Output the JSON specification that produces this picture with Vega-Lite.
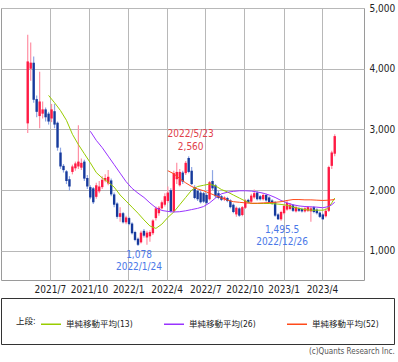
{
  "$schema": "https://vega.github.io/schema/vega-lite/v6.json",
  "width": 363,
  "height": 272,
  "autosize": {"type": "none"},
  "padding": {"left": 1, "top": 8, "right": 34, "bottom": 82},
  "background": "white",
  "config": {
    "font": "Liberation Sans Narrow, DejaVu Sans Condensed, Noto Sans CJK JP, sans-serif",
    "view": {"stroke": "#9a9a9a"},
    "axis": {"gridColor": "#b8b8b8", "gridWidth": 1, "ticks": false, "domain": false, "labelColor": "#222", "labelFontSize": 10, "title": null},
    "legend": {"orient": "none", "legendX": 0, "legendY": 290, "direction": "horizontal", "titleOrient": "left", "strokeColor": "#333", "fillColor": "white", "padding": 15, "columnPadding": 28, "symbolType": "stroke", "symbolSize": 400, "symbolStrokeWidth": 1.5, "labelFontSize": 8.5, "titleFontSize": 8.5, "titleFontWeight": "normal", "labelColor": "#222", "titleColor": "#222", "titlePadding": 4, "labelOffset": 4},
    "title": {"orient": "bottom", "anchor": "end", "fontSize": 8, "fontWeight": "normal", "color": "#555", "offset": 3}
  },
  "title": "(c)Quants Research Inc.",
  "datasets": {
    "c": [
      {"d":"2021-05-10","o":3100,"h":4560,"l":2940,"c":4120},
      {"d":"2021-05-17","o":4000,"h":4430,"l":3800,"c":4100},
      {"d":"2021-05-24","o":4100,"h":4200,"l":3440,"c":3490},
      {"d":"2021-05-31","o":3500,"h":3560,"l":3200,"c":3290},
      {"d":"2021-06-07","o":3220,"h":3950,"l":3020,"c":3460},
      {"d":"2021-06-14","o":3260,"h":3460,"l":3180,"c":3330},
      {"d":"2021-06-21","o":3330,"h":3360,"l":3130,"c":3200},
      {"d":"2021-06-28","o":3260,"h":3290,"l":3080,"c":3130},
      {"d":"2021-07-05","o":3180,"h":3420,"l":3120,"c":3330},
      {"d":"2021-07-12","o":3300,"h":3420,"l":3020,"c":3080},
      {"d":"2021-07-19","o":3110,"h":3130,"l":2650,"c":2700},
      {"d":"2021-07-26","o":2620,"h":2700,"l":2350,"c":2390},
      {"d":"2021-08-02","o":2400,"h":2430,"l":2290,"c":2330},
      {"d":"2021-08-09","o":2310,"h":2330,"l":2100,"c":2150},
      {"d":"2021-08-16","o":2180,"h":2230,"l":1990,"c":2060},
      {"d":"2021-08-23","o":2300,"h":2420,"l":2260,"c":2390},
      {"d":"2021-08-30","o":2360,"h":2470,"l":2320,"c":2440},
      {"d":"2021-09-06","o":2390,"h":3070,"l":2350,"c":2470},
      {"d":"2021-09-13","o":2370,"h":2520,"l":2330,"c":2450},
      {"d":"2021-09-20","o":2470,"h":2500,"l":2150,"c":2190},
      {"d":"2021-09-27","o":2200,"h":2250,"l":2020,"c":2060},
      {"d":"2021-10-04","o":2050,"h":2080,"l":1850,"c":1880},
      {"d":"2021-10-11","o":2030,"h":2050,"l":1770,"c":1800},
      {"d":"2021-10-18","o":1890,"h":2120,"l":1860,"c":2080},
      {"d":"2021-10-25","o":1980,"h":2150,"l":1950,"c":2060},
      {"d":"2021-11-01","o":2050,"h":2230,"l":2020,"c":2170},
      {"d":"2021-11-08","o":2160,"h":2260,"l":2130,"c":2200},
      {"d":"2021-11-15","o":2110,"h":2330,"l":2080,"c":2220},
      {"d":"2021-11-22","o":2160,"h":2190,"l":1900,"c":1930},
      {"d":"2021-11-29","o":1930,"h":1960,"l":1720,"c":1760},
      {"d":"2021-12-06","o":1780,"h":1800,"l":1530,"c":1560},
      {"d":"2021-12-13","o":1560,"h":1720,"l":1480,"c":1620},
      {"d":"2021-12-20","o":1620,"h":1640,"l":1450,"c":1470},
      {"d":"2021-12-27","o":1470,"h":1580,"l":1440,"c":1550},
      {"d":"2022-01-03","o":1540,"h":1560,"l":1420,"c":1440},
      {"d":"2022-01-10","o":1450,"h":1470,"l":1270,"c":1290},
      {"d":"2022-01-17","o":1310,"h":1330,"l":1160,"c":1180},
      {"d":"2022-01-24","o":1200,"h":1220,"l":1078,"c":1100},
      {"d":"2022-01-31","o":1140,"h":1330,"l":1120,"c":1300},
      {"d":"2022-02-07","o":1330,"h":1360,"l":1220,"c":1250},
      {"d":"2022-02-14","o":1220,"h":1330,"l":1100,"c":1300},
      {"d":"2022-02-21","o":1240,"h":1340,"l":1150,"c":1310},
      {"d":"2022-02-28","o":1290,"h":1520,"l":1260,"c":1500},
      {"d":"2022-03-07","o":1540,"h":1730,"l":1500,"c":1700},
      {"d":"2022-03-14","o":1620,"h":1740,"l":1580,"c":1710},
      {"d":"2022-03-21","o":1700,"h":1830,"l":1680,"c":1800},
      {"d":"2022-03-28","o":1760,"h":1950,"l":1730,"c":1900},
      {"d":"2022-04-04","o":1820,"h":2060,"l":1790,"c":1960},
      {"d":"2022-04-11","o":2000,"h":2030,"l":1630,"c":1650},
      {"d":"2022-04-18","o":1650,"h":2320,"l":1630,"c":2280},
      {"d":"2022-04-25","o":2180,"h":2450,"l":2100,"c":2300},
      {"d":"2022-05-02","o":2080,"h":2350,"l":2060,"c":2300},
      {"d":"2022-05-09","o":2290,"h":2320,"l":2100,"c":2140},
      {"d":"2022-05-16","o":2280,"h":2480,"l":2250,"c":2450},
      {"d":"2022-05-23","o":2530,"h":2560,"l":2280,"c":2300},
      {"d":"2022-05-30","o":2320,"h":2380,"l":2080,"c":2100},
      {"d":"2022-06-06","o":2050,"h":2080,"l":1850,"c":1870},
      {"d":"2022-06-13","o":1990,"h":2010,"l":1820,"c":1850},
      {"d":"2022-06-20","o":1960,"h":2000,"l":1780,"c":1800},
      {"d":"2022-06-27","o":1950,"h":1970,"l":1790,"c":1810},
      {"d":"2022-07-04","o":1920,"h":1950,"l":1770,"c":1790},
      {"d":"2022-07-11","o":1850,"h":2150,"l":1830,"c":2130},
      {"d":"2022-07-18","o":2150,"h":2330,"l":2000,"c":2030},
      {"d":"2022-07-25","o":2080,"h":2100,"l":1870,"c":1900},
      {"d":"2022-08-01","o":1950,"h":1990,"l":1850,"c":1870},
      {"d":"2022-08-08","o":1900,"h":1920,"l":1820,"c":1840},
      {"d":"2022-08-15","o":1850,"h":1900,"l":1820,"c":1880},
      {"d":"2022-08-22","o":1870,"h":1890,"l":1800,"c":1820},
      {"d":"2022-08-29","o":1830,"h":1850,"l":1700,"c":1720},
      {"d":"2022-09-05","o":1760,"h":1780,"l":1620,"c":1640},
      {"d":"2022-09-12","o":1600,"h":1730,"l":1560,"c":1710},
      {"d":"2022-09-19","o":1700,"h":1720,"l":1560,"c":1580},
      {"d":"2022-09-26","o":1590,"h":1740,"l":1570,"c":1720},
      {"d":"2022-10-03","o":1710,"h":1850,"l":1690,"c":1830},
      {"d":"2022-10-10","o":1840,"h":1860,"l":1780,"c":1800},
      {"d":"2022-10-17","o":1810,"h":1940,"l":1790,"c":1910},
      {"d":"2022-10-24","o":1880,"h":2010,"l":1860,"c":1950},
      {"d":"2022-10-31","o":1960,"h":1980,"l":1830,"c":1850},
      {"d":"2022-11-07","o":1900,"h":1920,"l":1830,"c":1850},
      {"d":"2022-11-14","o":1850,"h":1950,"l":1830,"c":1920},
      {"d":"2022-11-21","o":1920,"h":1940,"l":1810,"c":1830},
      {"d":"2022-11-28","o":1880,"h":1900,"l":1790,"c":1800},
      {"d":"2022-12-05","o":1830,"h":1850,"l":1760,"c":1780},
      {"d":"2022-12-12","o":1800,"h":1820,"l":1560,"c":1580},
      {"d":"2022-12-19","o":1600,"h":1620,"l":1510,"c":1520},
      {"d":"2022-12-26","o":1520,"h":1660,"l":1495.5,"c":1640},
      {"d":"2023-01-02","o":1620,"h":1760,"l":1600,"c":1740},
      {"d":"2023-01-09","o":1680,"h":1820,"l":1660,"c":1790},
      {"d":"2023-01-16","o":1690,"h":1790,"l":1670,"c":1760},
      {"d":"2023-01-23","o":1750,"h":1770,"l":1640,"c":1660},
      {"d":"2023-01-30","o":1650,"h":1740,"l":1630,"c":1720},
      {"d":"2023-02-06","o":1700,"h":1720,"l":1640,"c":1660},
      {"d":"2023-02-13","o":1690,"h":1710,"l":1630,"c":1650},
      {"d":"2023-02-20","o":1650,"h":1720,"l":1630,"c":1700},
      {"d":"2023-02-27","o":1660,"h":1740,"l":1640,"c":1720},
      {"d":"2023-03-06","o":1650,"h":1730,"l":1480,"c":1700},
      {"d":"2023-03-13","o":1720,"h":1740,"l":1620,"c":1640},
      {"d":"2023-03-20","o":1680,"h":1700,"l":1600,"c":1620},
      {"d":"2023-03-27","o":1630,"h":1650,"l":1540,"c":1560},
      {"d":"2023-04-03","o":1600,"h":1620,"l":1510,"c":1520},
      {"d":"2023-04-10","o":1570,"h":1700,"l":1550,"c":1660},
      {"d":"2023-04-17","o":1660,"h":2400,"l":1640,"c":2380},
      {"d":"2023-04-24","o":2400,"h":2650,"l":2350,"c":2620},
      {"d":"2023-05-01","o":2600,"h":2920,"l":2560,"c":2890}
    ],
    "ma": [
      {"d":"2021-06-28","s":"単純移動平均(13)","v":3560},
      {"d":"2021-07-12","s":"単純移動平均(13)","v":3440},
      {"d":"2021-07-26","s":"単純移動平均(13)","v":3310},
      {"d":"2021-08-09","s":"単純移動平均(13)","v":3150},
      {"d":"2021-08-23","s":"単純移動平均(13)","v":2920},
      {"d":"2021-09-06","s":"単純移動平均(13)","v":2750},
      {"d":"2021-09-20","s":"単純移動平均(13)","v":2600},
      {"d":"2021-10-04","s":"単純移動平均(13)","v":2450},
      {"d":"2021-10-18","s":"単純移動平均(13)","v":2290},
      {"d":"2021-11-01","s":"単純移動平均(13)","v":2200},
      {"d":"2021-11-15","s":"単純移動平均(13)","v":2130},
      {"d":"2021-11-29","s":"単純移動平均(13)","v":2050},
      {"d":"2021-12-13","s":"単純移動平均(13)","v":1920},
      {"d":"2021-12-27","s":"単純移動平均(13)","v":1820},
      {"d":"2022-01-10","s":"単純移動平均(13)","v":1720},
      {"d":"2022-01-24","s":"単純移動平均(13)","v":1620},
      {"d":"2022-02-07","s":"単純移動平均(13)","v":1510},
      {"d":"2022-02-21","s":"単純移動平均(13)","v":1410},
      {"d":"2022-03-07","s":"単純移動平均(13)","v":1370},
      {"d":"2022-03-21","s":"単純移動平均(13)","v":1440},
      {"d":"2022-04-04","s":"単純移動平均(13)","v":1550},
      {"d":"2022-04-18","s":"単純移動平均(13)","v":1640},
      {"d":"2022-05-02","s":"単純移動平均(13)","v":1760},
      {"d":"2022-05-16","s":"単純移動平均(13)","v":1880},
      {"d":"2022-05-30","s":"単純移動平均(13)","v":2000},
      {"d":"2022-06-13","s":"単純移動平均(13)","v":2060},
      {"d":"2022-06-27","s":"単純移動平均(13)","v":2080},
      {"d":"2022-07-11","s":"単純移動平均(13)","v":2100},
      {"d":"2022-07-25","s":"単純移動平均(13)","v":2070},
      {"d":"2022-08-08","s":"単純移動平均(13)","v":2010},
      {"d":"2022-08-22","s":"単純移動平均(13)","v":1970},
      {"d":"2022-09-05","s":"単純移動平均(13)","v":1920},
      {"d":"2022-09-19","s":"単純移動平均(13)","v":1870},
      {"d":"2022-10-03","s":"単純移動平均(13)","v":1820},
      {"d":"2022-10-17","s":"単純移動平均(13)","v":1780},
      {"d":"2022-10-31","s":"単純移動平均(13)","v":1780},
      {"d":"2022-11-14","s":"単純移動平均(13)","v":1780},
      {"d":"2022-11-28","s":"単純移動平均(13)","v":1780},
      {"d":"2022-12-12","s":"単純移動平均(13)","v":1775},
      {"d":"2022-12-26","s":"単純移動平均(13)","v":1765},
      {"d":"2023-01-09","s":"単純移動平均(13)","v":1750},
      {"d":"2023-01-23","s":"単純移動平均(13)","v":1720},
      {"d":"2023-02-06","s":"単純移動平均(13)","v":1700},
      {"d":"2023-02-20","s":"単純移動平均(13)","v":1680},
      {"d":"2023-03-06","s":"単純移動平均(13)","v":1670},
      {"d":"2023-03-20","s":"単純移動平均(13)","v":1670},
      {"d":"2023-04-03","s":"単純移動平均(13)","v":1670},
      {"d":"2023-04-10","s":"単純移動平均(13)","v":1680},
      {"d":"2023-04-17","s":"単純移動平均(13)","v":1720},
      {"d":"2023-04-24","s":"単純移動平均(13)","v":1790},
      {"d":"2023-05-01","s":"単純移動平均(13)","v":1870},
      {"d":"2021-10-04","s":"単純移動平均(26)","v":2970},
      {"d":"2021-10-18","s":"単純移動平均(26)","v":2820},
      {"d":"2021-11-01","s":"単純移動平均(26)","v":2700},
      {"d":"2021-11-15","s":"単純移動平均(26)","v":2560},
      {"d":"2021-11-29","s":"単純移動平均(26)","v":2420},
      {"d":"2021-12-13","s":"単純移動平均(26)","v":2280},
      {"d":"2021-12-27","s":"単純移動平均(26)","v":2140},
      {"d":"2022-01-10","s":"単純移動平均(26)","v":2030},
      {"d":"2022-01-24","s":"単純移動平均(26)","v":1950},
      {"d":"2022-02-07","s":"単純移動平均(26)","v":1880},
      {"d":"2022-02-21","s":"単純移動平均(26)","v":1790},
      {"d":"2022-03-07","s":"単純移動平均(26)","v":1710},
      {"d":"2022-03-21","s":"単純移動平均(26)","v":1665},
      {"d":"2022-04-04","s":"単純移動平均(26)","v":1650},
      {"d":"2022-04-18","s":"単純移動平均(26)","v":1640},
      {"d":"2022-05-02","s":"単純移動平均(26)","v":1645},
      {"d":"2022-05-16","s":"単純移動平均(26)","v":1660},
      {"d":"2022-05-30","s":"単純移動平均(26)","v":1680},
      {"d":"2022-06-13","s":"単純移動平均(26)","v":1700},
      {"d":"2022-06-27","s":"単純移動平均(26)","v":1730},
      {"d":"2022-07-11","s":"単純移動平均(26)","v":1790},
      {"d":"2022-07-25","s":"単純移動平均(26)","v":1870},
      {"d":"2022-08-08","s":"単純移動平均(26)","v":1940},
      {"d":"2022-08-22","s":"単純移動平均(26)","v":1965},
      {"d":"2022-09-05","s":"単純移動平均(26)","v":1980},
      {"d":"2022-09-19","s":"単純移動平均(26)","v":1990},
      {"d":"2022-10-03","s":"単純移動平均(26)","v":1990},
      {"d":"2022-10-17","s":"単純移動平均(26)","v":1985},
      {"d":"2022-10-31","s":"単純移動平均(26)","v":1970},
      {"d":"2022-11-14","s":"単純移動平均(26)","v":1950},
      {"d":"2022-11-28","s":"単純移動平均(26)","v":1920},
      {"d":"2022-12-12","s":"単純移動平均(26)","v":1880},
      {"d":"2022-12-26","s":"単純移動平均(26)","v":1830},
      {"d":"2023-01-09","s":"単純移動平均(26)","v":1790},
      {"d":"2023-01-23","s":"単純移動平均(26)","v":1760},
      {"d":"2023-02-06","s":"単純移動平均(26)","v":1740},
      {"d":"2023-02-20","s":"単純移動平均(26)","v":1730},
      {"d":"2023-03-06","s":"単純移動平均(26)","v":1725},
      {"d":"2023-03-20","s":"単純移動平均(26)","v":1720},
      {"d":"2023-04-03","s":"単純移動平均(26)","v":1710},
      {"d":"2023-04-17","s":"単純移動平均(26)","v":1730},
      {"d":"2023-04-24","s":"単純移動平均(26)","v":1760},
      {"d":"2023-05-01","s":"単純移動平均(26)","v":1800},
      {"d":"2022-04-04","s":"単純移動平均(52)","v":2320},
      {"d":"2022-04-18","s":"単純移動平均(52)","v":2270},
      {"d":"2022-05-02","s":"単純移動平均(52)","v":2190},
      {"d":"2022-05-16","s":"単純移動平均(52)","v":2120},
      {"d":"2022-05-30","s":"単純移動平均(52)","v":2060},
      {"d":"2022-06-13","s":"単純移動平均(52)","v":2020},
      {"d":"2022-06-27","s":"単純移動平均(52)","v":1990},
      {"d":"2022-07-11","s":"単純移動平均(52)","v":1950},
      {"d":"2022-07-25","s":"単純移動平均(52)","v":1910},
      {"d":"2022-08-08","s":"単純移動平均(52)","v":1870},
      {"d":"2022-08-22","s":"単純移動平均(52)","v":1835},
      {"d":"2022-09-05","s":"単純移動平均(52)","v":1810},
      {"d":"2022-09-19","s":"単純移動平均(52)","v":1800},
      {"d":"2022-10-03","s":"単純移動平均(52)","v":1790},
      {"d":"2022-10-17","s":"単純移動平均(52)","v":1785},
      {"d":"2022-10-31","s":"単純移動平均(52)","v":1785},
      {"d":"2022-11-14","s":"単純移動平均(52)","v":1790},
      {"d":"2022-11-28","s":"単純移動平均(52)","v":1795},
      {"d":"2022-12-12","s":"単純移動平均(52)","v":1800},
      {"d":"2022-12-26","s":"単純移動平均(52)","v":1810},
      {"d":"2023-01-09","s":"単純移動平均(52)","v":1830},
      {"d":"2023-01-23","s":"単純移動平均(52)","v":1845},
      {"d":"2023-02-06","s":"単純移動平均(52)","v":1845},
      {"d":"2023-02-20","s":"単純移動平均(52)","v":1840},
      {"d":"2023-03-06","s":"単純移動平均(52)","v":1840},
      {"d":"2023-03-20","s":"単純移動平均(52)","v":1835},
      {"d":"2023-04-03","s":"単純移動平均(52)","v":1830},
      {"d":"2023-04-17","s":"単純移動平均(52)","v":1835},
      {"d":"2023-05-01","s":"単純移動平均(52)","v":1845}
    ],
    "ann": [
      {"d":"2022-05-23","v":2560,"t1":"2022/5/23","t2":"2,560","k":"hi"},
      {"d":"2022-01-24","v":1078,"t1":"2022/1/24","t2":"1,078","k":"lo"},
      {"d":"2022-12-26","v":1495.5,"t1":"2022/12/26","t2":"1,495.5","k":"lo"}
    ]
  },
  "encoding": {
    "x": {
      "field": "d", "type": "temporal",
      "scale": {"type": "utc", "domain": [{"year":2021,"month":3,"date":20,"utc":true},{"year":2023,"month":6,"date":27,"utc":true}]},
      "axis": {
        "orient": "bottom", "grid": true, "labelExpr": "utcFormat(datum.value, '%Y/%-m')", "labelPadding": 4,
        "values": [
          {"year":2021,"month":7,"date":1,"utc":true},
          {"year":2021,"month":10,"date":1,"utc":true},
          {"year":2022,"month":1,"date":1,"utc":true},
          {"year":2022,"month":4,"date":1,"utc":true},
          {"year":2022,"month":7,"date":1,"utc":true},
          {"year":2022,"month":10,"date":1,"utc":true},
          {"year":2023,"month":1,"date":1,"utc":true},
          {"year":2023,"month":4,"date":1,"utc":true}
        ]
      }
    }
  },
  "layer": [
    {
      "data": {"name": "c"},
      "mark": {"type": "rule", "strokeWidth": 1.2},
      "encoding": {
        "y": {"field": "l", "type": "quantitative", "scale": {"domain": [520, 5000], "nice": false, "zero": false},
              "axis": {"orient": "right", "grid": true, "values": [1000,2000,3000,4000,5000], "format": ",d", "labelPadding": 5}},
        "y2": {"field": "h"},
        "color": {"condition": {"test": "datum.c >= datum.o", "value": "#ff90a4"}, "value": "#8ea6e4"}
      }
    },
    {
      "data": {"name": "c"},
      "mark": {"type": "bar", "width": 2.4},
      "encoding": {
        "y": {"field": "o", "type": "quantitative"},
        "y2": {"field": "c"},
        "color": {"condition": {"test": "datum.c >= datum.o", "value": "#ff1a44"}, "value": "#163a9c"}
      }
    },
    {
      "data": {"name": "ma"},
      "mark": {"type": "line", "strokeWidth": 1},
      "encoding": {
        "y": {"field": "v", "type": "quantitative"},
        "color": {"field": "s", "type": "nominal",
                  "scale": {"domain": ["単純移動平均(13)","単純移動平均(26)","単純移動平均(52)"], "range": ["#99cc00","#9933ff","#ff4a1a"]},
                  "legend": {"title": "上段:"}}
      }
    },
    {
      "data": {"name": "ann"},
      "transform": [{"filter": "datum.k == 'hi'"}],
      "mark": {"type": "text", "dy": -9, "dx": 2, "fontSize": 10, "color": "#e0404a"},
      "encoding": {"y": {"field": "v", "type": "quantitative"}, "text": {"field": "t2"}}
    },
    {
      "data": {"name": "ann"},
      "transform": [{"filter": "datum.k == 'hi'"}],
      "mark": {"type": "text", "dy": -22, "dx": 2, "fontSize": 10, "color": "#e0404a"},
      "encoding": {"y": {"field": "v", "type": "quantitative"}, "text": {"field": "t1"}}
    },
    {
      "data": {"name": "ann"},
      "transform": [{"filter": "datum.k == 'lo'"}],
      "mark": {"type": "text", "dy": 9, "dx": 1, "fontSize": 10, "color": "#4a78e8"},
      "encoding": {"y": {"field": "v", "type": "quantitative"}, "text": {"field": "t2"}}
    },
    {
      "data": {"name": "ann"},
      "transform": [{"filter": "datum.k == 'lo'"}],
      "mark": {"type": "text", "dy": 21, "dx": 1, "fontSize": 10, "color": "#4a78e8"},
      "encoding": {"y": {"field": "v", "type": "quantitative"}, "text": {"field": "t1"}}
    }
  ]
}
